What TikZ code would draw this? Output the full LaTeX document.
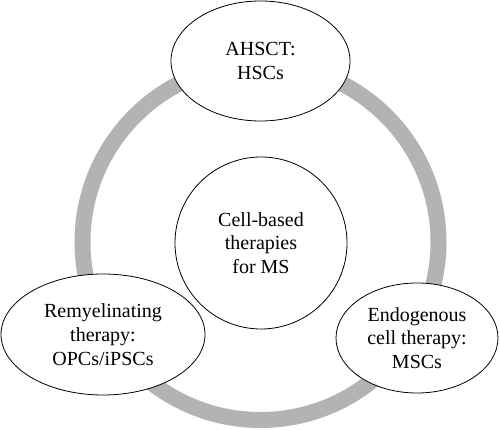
\documentclass[tikz,border=0pt]{standalone}
\usepackage{fontspec}
\setmainfont{Liberation Serif}
\usepackage{xcolor}
\usetikzlibrary{positioning, shapes.geometric}

\definecolor{ringgray}{RGB}{178,179,181}

\tikzset{
  therapy/.style={draw, ellipse, fill=white, line width=0.8pt, inner sep=0pt,
    align=center, font=\fontsize{20}{23.7}\selectfont},
  hubcircle/.style={draw, circle, fill=white, line width=0.8pt, inner sep=0pt,
    align=center, font=\fontsize{20}{23.7}\selectfont, minimum size=172pt}
}

\begin{document}
\begin{tikzpicture}[x=1pt, y=1pt]
    \useasboundingbox (0,0) rectangle (500,430);

    % Grey ring behind everything
    \coordinate (ringcentre) at (260.5,188);
    \draw[ringgray, line width=16pt] (ringcentre) circle (178);

    % Centre circle
    \node[hubcircle] (hub) at (261,187) {Cell-based\\therapies\\for MS};

    % The three therapies on the ring
    \node[therapy, minimum width=179pt, minimum height=120pt] (ahsct) at (260.5,369) {AHSCT:\\HSCs};
    \node[therapy, minimum width=204pt, minimum height=121pt] (remyel) at (103,95.5) {Remyelinating\\therapy:\\OPCs/iPSCs};
    \node[therapy, minimum width=162pt, minimum height=110pt] (endog) at (417,92) {Endogenous\\cell therapy:\\MSCs};
\end{tikzpicture}
\end{document}
